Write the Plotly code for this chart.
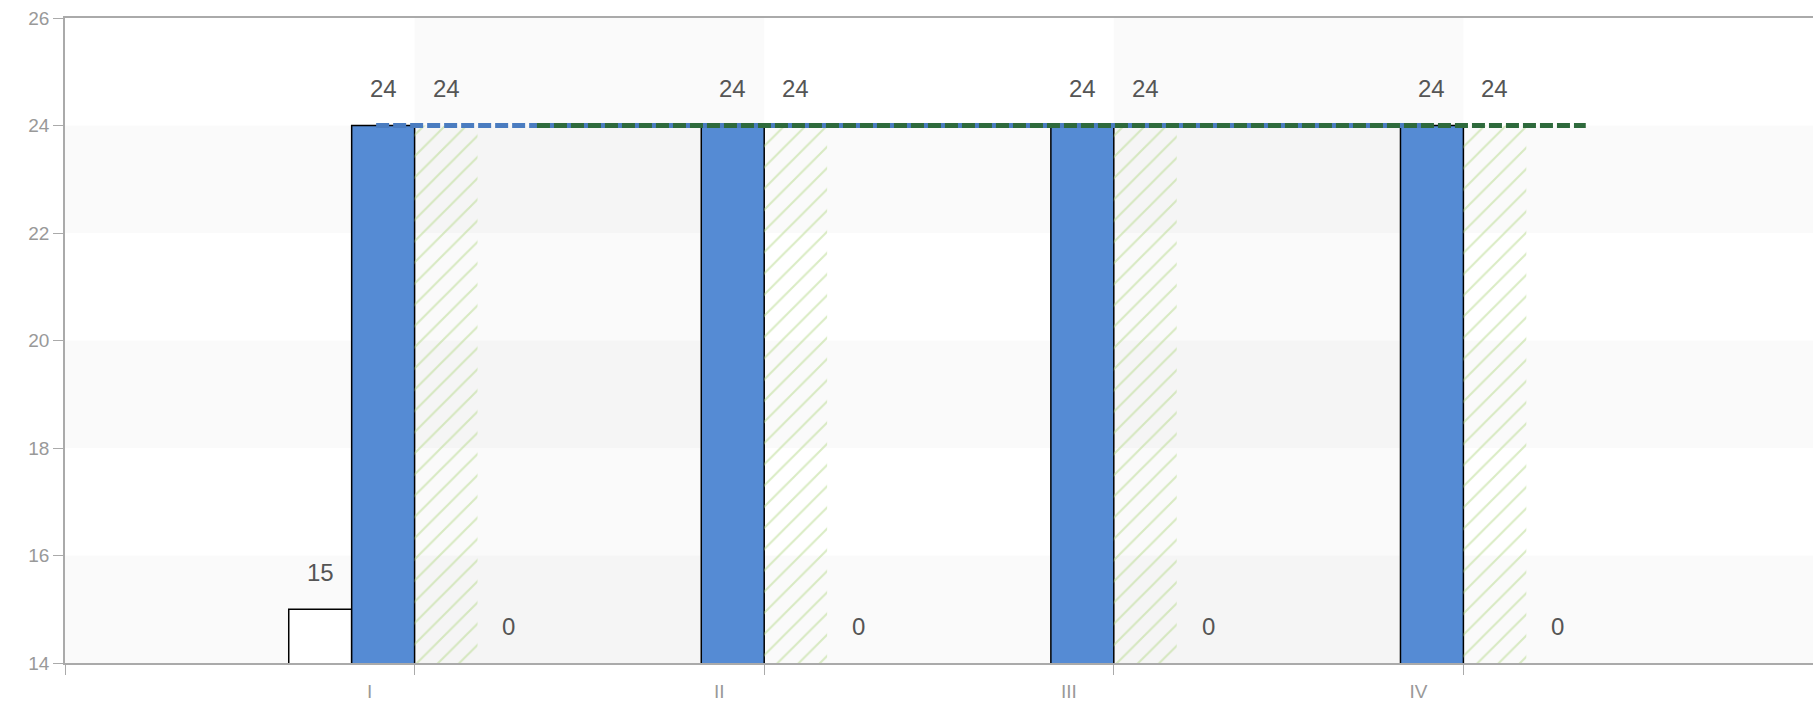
import plotly.graph_objects as go

categories = ['I', 'II', 'III', 'IV']
cat_pos = [1, 2, 3, 4]

# bar series (None = no value)
white_vals = [15, None, None, None]
blue_vals = [24, 24, 24, 24]
hatch_vals = [24, 24, 24, 24]
zero_vals = [0, 0, 0, 0]

# dashed line series
blue_line_x = [0.89, 1.89, 2.89, 3.89]
blue_line_y = [24, 24, 24, 24]
green_line_x = [1.35, 2.35, 3.35, 4.35]
green_line_y = [24, 24, 24, 24]

y_min, y_max = 14, 26
bargap = 0.28
bar_w = (1 - bargap) / 4

fig = go.Figure()

fig.add_trace(go.Bar(x=cat_pos, y=white_vals, marker=dict(color='white', line=dict(color='black', width=1.5))))
fig.add_trace(go.Bar(x=cat_pos, y=blue_vals, marker=dict(color='#558bd4', line=dict(color='black', width=1.5))))
fig.add_trace(go.Bar(x=cat_pos, y=hatch_vals,
                     marker=dict(color='rgba(0,0,0,0)', line=dict(width=0),
                                 pattern=dict(shape='/', fgcolor='#b5d98a', bgcolor='rgba(0,0,0,0)',
                                              size=15, solidity=0.14, fillmode='overlay'))))
fig.add_trace(go.Bar(x=cat_pos, y=zero_vals, marker=dict(color='#91cc75')))

fig.add_trace(go.Scatter(x=blue_line_x, y=blue_line_y, mode='lines',
                         line=dict(color='#4a7cc0', width=5, dash='13px,4px')))
fig.add_trace(go.Scatter(x=green_line_x, y=green_line_y, mode='lines',
                         line=dict(color='#2e6a3c', width=5, dash='13px,4px')))

# data labels
series = [white_vals, blue_vals, hatch_vals, zero_vals]
for si, vals in enumerate(series):
    off = (si - 1.5) * bar_w
    for p, v in zip(cat_pos, vals):
        if v is None:
            continue
        fig.add_annotation(x=p + off, y=max(v, y_min), text=str(v), showarrow=False,
                           yshift=37, font=dict(size=24, color='#555555'))

# split areas
shapes = []
for x0 in [1, 3]:
    shapes.append(dict(type='rect', xref='x', yref='y', x0=x0, x1=x0 + 1, y0=y_min, y1=y_max,
                       fillcolor='rgba(0,0,0,0.02)', line=dict(width=0), layer='below'))
for y0 in [14, 18, 22]:
    shapes.append(dict(type='rect', xref='x', yref='y', x0=0, x1=5, y0=y0, y1=y0 + 2,
                       fillcolor='rgba(0,0,0,0.02)', line=dict(width=0), layer='below'))

fig.update_layout(
    width=1813, height=708,
    margin=dict(l=65, r=0, t=18, b=45),
    paper_bgcolor='white', plot_bgcolor='white',
    barmode='group', bargap=bargap, bargroupgap=0,
    showlegend=False,
    shapes=shapes,
    font=dict(family='Liberation Sans, Arial, sans-serif'),
    xaxis=dict(range=[0, 5], tickmode='array', tickvals=[0] + cat_pos + [5], ticktext=[''] + categories + [''],
               ticks='outside', ticklen=10, tickcolor='#aaaaaa', tickwidth=1,
               showline=True, linecolor='#aaaaaa', linewidth=1.5, mirror=True,
               showgrid=False, zeroline=False, ticklabelshift=-45,
               tickfont=dict(size=19, color='#999999')),
    yaxis=dict(range=[y_min, y_max], tickmode='array', tickvals=list(range(14, 27, 2)),
               ticks='outside', ticklen=10, tickcolor='#aaaaaa', tickwidth=1,
               showline=True, linecolor='#aaaaaa', linewidth=1.5,
               showgrid=False, zeroline=False,
               tickfont=dict(size=19, color='#999999')),
)

fig.write_html("out.html", config={'displayModeBar': False},
               post_script="document.body.style.margin='0';")
